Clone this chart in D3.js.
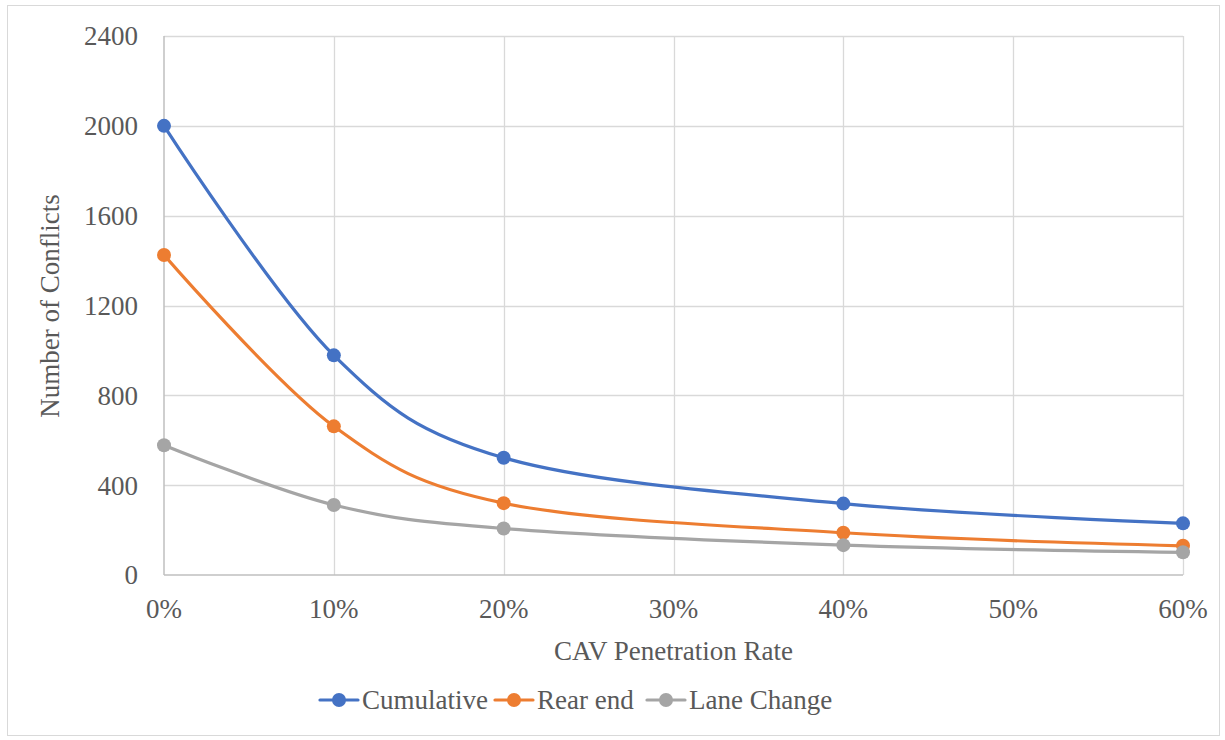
<!DOCTYPE html>
<html><head><meta charset="utf-8">
<script src="https://cdn.jsdelivr.net/npm/d3@7"></script>
</head><body style="margin:0">
<svg id="c" width="1225" height="740" style="font-family: 'Times New Roman', serif"></svg>
<script>
const rates = [0, 10, 20, 40, 60];
const cumulative = [2000, 978, 522, 318, 230];
const rearEnd = [1425, 662, 320, 188, 130];
const laneChange = [578, 312, 207, 133, 101];
const seriesNames = ["Cumulative", "Rear end", "Lane Change"];
const seriesColors = ["#4472C4", "#ED7D31", "#A5A5A5"];
const xTicks = [0, 10, 20, 30, 40, 50, 60];
const yTicks = [0, 400, 800, 1200, 1600, 2000, 2400];

const series = [cumulative, rearEnd, laneChange];
const svg = d3.select("#c");
const txt = "#595959";
const FS = 27;
function styleText(sel) {
  return sel.style("font-family", "Times New Roman").attr("font-size", FS).attr("fill", txt);
}

svg.append("rect").attr("x", 7.5).attr("y", 5.5).attr("width", 1212).attr("height", 730)
  .attr("fill", "#fff").attr("stroke", "#D9D9D9").attr("stroke-width", 1);

const x = d3.scaleLinear().domain([0, 60]).range([164, 1183]);
const y = d3.scaleLinear().domain([0, 2400]).range([575, 36]);

const g = svg.append("g");
g.selectAll(".hg").data(yTicks.filter(d => d > 0)).join("line")
  .attr("x1", x(0)).attr("x2", x(60)).attr("y1", d => Math.round(y(d)) + 0.5).attr("y2", d => Math.round(y(d)) + 0.5)
  .attr("stroke", "#D9D9D9").attr("stroke-width", 1.3);
g.selectAll(".vg").data(xTicks.filter(d => d > 0)).join("line")
  .attr("x1", d => Math.round(x(d)) + 0.5).attr("x2", d => Math.round(x(d)) + 0.5).attr("y1", y(2400)).attr("y2", y(0))
  .attr("stroke", "#D9D9D9").attr("stroke-width", 1.3);
g.append("line").attr("x1", x(0)).attr("x2", x(60)).attr("y1", y(0)).attr("y2", y(0)).attr("stroke", "#BFBFBF").attr("stroke-width", 1.5);
g.append("line").attr("x1", x(0)).attr("x2", x(0)).attr("y1", y(0)).attr("y2", y(2400)).attr("stroke", "#BFBFBF").attr("stroke-width", 1.5);

styleText(g.selectAll(".yl").data(yTicks).join("text")
  .attr("x", 138).attr("y", d => y(d)).attr("dy", "0.35em").attr("text-anchor", "end")).text(d => d);
styleText(g.selectAll(".xl").data(xTicks).join("text")
  .attr("x", d => x(d)).attr("y", 609).attr("dy", "0.35em").attr("text-anchor", "middle")).text(d => d + "%");

styleText(svg.append("text").attr("x", x(30)).attr("y", 651).attr("dy", "0.35em").attr("text-anchor", "middle"))
  .text("CAV Penetration Rate");
styleText(svg.append("text").attr("transform", "translate(50,306) rotate(-90)").attr("dy", "0.35em").attr("text-anchor", "middle"))
  .text("Number of Conflicts");

const line = d3.line().x((d, i) => x(rates[i])).y(d => y(d)).curve(d3.curveCardinal.tension(0));
series.forEach((s, k) => {
  g.append("path").attr("d", line(s)).attr("fill", "none").attr("stroke", seriesColors[k]).attr("stroke-width", 3.2)
    .attr("stroke-linecap", "round");
});
series.forEach((s, k) => {
  g.selectAll(".m" + k).data(s).join("circle")
    .attr("cx", (d, i) => x(rates[i])).attr("cy", d => y(d)).attr("r", 7).attr("fill", seriesColors[k]);
});

const legX = [320, 495, 647];
const legY = 700;
seriesNames.forEach((n, k) => {
  const lg = svg.append("g");
  lg.append("line").attr("x1", legX[k]).attr("x2", legX[k] + 38).attr("y1", legY).attr("y2", legY)
    .attr("stroke", seriesColors[k]).attr("stroke-width", 3.2).attr("stroke-linecap", "round");
  lg.append("circle").attr("cx", legX[k] + 19).attr("cy", legY).attr("r", 7).attr("fill", seriesColors[k]);
  styleText(lg.append("text").attr("x", legX[k] + 42).attr("y", legY).attr("dy", "0.35em")).text(n);
});
</script>
</body></html>
